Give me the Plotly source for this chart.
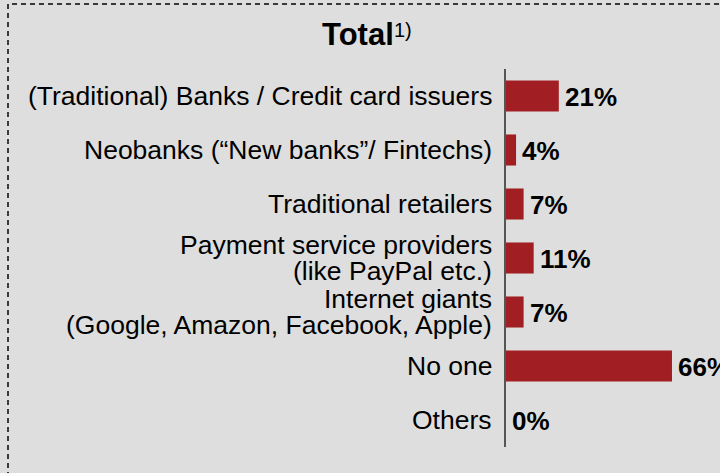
import plotly.graph_objects as go

# Survey answers (share of respondents, %)
categories = [
    "(Traditional) Banks / Credit card issuers",
    "Neobanks (\u201cNew banks\u201d/ Fintechs)",
    "Traditional retailers",
    "Payment service providers<br>(like PayPal etc.)",
    "Internet giants<br>(Google, Amazon, Facebook, Apple)",
    "No one",
    "Others",
]
values = [21, 4, 7, 11, 7, 66, 0]
title_main = "Total"
title_note = "1)"

W, H = 720, 473
AXIS_X = 506          # pixel position of the value axis
PLOT_TOP, PLOT_BOTTOM = 69, 447
BG = "#dedede"
BAR = "#a11f22"
FONT = "Liberation Sans, Arial, sans-serif"


def px_x(p):
    return (p - AXIS_X) / (W - AXIS_X)


def px_y(p):
    return (PLOT_BOTTOM - p) / (PLOT_BOTTOM - PLOT_TOP)


cat_ids = list(range(len(categories)))

fig = go.Figure(
    go.Bar(
        x=values,
        y=cat_ids,
        orientation="h",
        width=0.575,
        marker=dict(color=BAR, line=dict(width=0)),
        hoverinfo="skip",
    )
)

annotations = []
# category labels, right-aligned against the axis, multi-line labels split per line
for cid, label in zip(cat_ids, categories):
    lines = label.split("<br>")
    n = len(lines)
    for i, line in enumerate(lines):
        offset = (i - (n - 1) / 2) * 26
        annotations.append(dict(
            x=0, xref="x", y=cid, yref="y",
            text=line, showarrow=False,
            xanchor="right", yanchor="middle",
            xshift=-12, yshift=-offset,
            font=dict(family=FONT, size=26.5, color="#000000"),
        ))

# value labels at the end of each bar
for cid, v in zip(cat_ids, values):
    annotations.append(dict(
        x=v, xref="x", y=cid, yref="y",
        text=f"<b>{v}%</b>", showarrow=False,
        xanchor="left", yanchor="middle",
        xshift=4, yshift=-1,
        font=dict(family=FONT, size=26, color="#000000"),
    ))

# title with footnote marker
annotations.append(dict(
    x=px_x(320), xref="paper", y=px_y(35), yref="paper",
    text=f"<b>{title_main}</b>", showarrow=False,
    xanchor="left", yanchor="middle",
    font=dict(family=FONT, size=31, color="#000000"),
))
annotations.append(dict(
    x=px_x(392), xref="paper", y=px_y(17), yref="paper",
    text=title_note, showarrow=False,
    xanchor="left", yanchor="top",
    font=dict(family=FONT, size=20, color="#000000"),
))

fig.update_layout(
    width=W, height=H,
    margin=dict(l=AXIS_X, r=0, t=PLOT_TOP, b=H - PLOT_BOTTOM, pad=0),
    paper_bgcolor=BG, plot_bgcolor=BG,
    showlegend=False,
    annotations=annotations,
    xaxis=dict(range=[0, (W - AXIS_X) / 2.515], showgrid=False, zeroline=False,
               showticklabels=False, showline=False, ticks="", fixedrange=True),
    yaxis=dict(range=[len(categories) - 0.5, -0.5], showgrid=False, zeroline=False,
               showticklabels=False, showline=True, linecolor="#555555", linewidth=1.5,
               ticks="", fixedrange=True),
    shapes=[dict(
        type="rect", xref="paper", yref="paper",
        x0=px_x(8), x1=px_x(W + 20), y0=px_y(H + 20), y1=px_y(4),
        line=dict(color="#3a3a3a", width=2, dash="5px,4px"),
        fillcolor="rgba(0,0,0,0)", layer="above",
    )],
)

fig.write_html("out.html", config={"displayModeBar": False})
